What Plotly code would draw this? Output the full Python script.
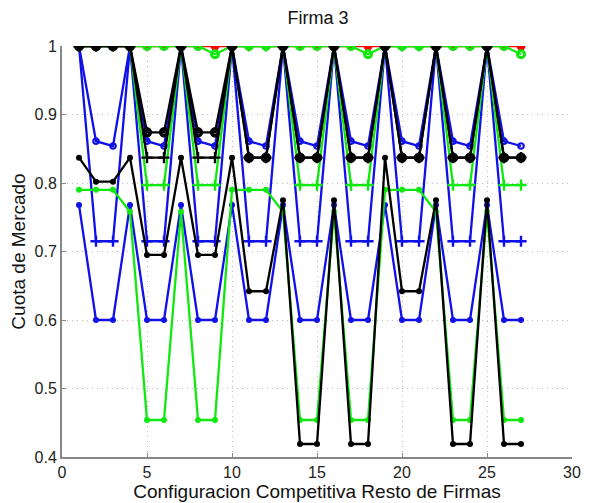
import plotly.graph_objects as go

x = [1, 2, 3, 4, 5, 6, 7, 8, 9, 10, 11, 12, 13, 14, 15, 16, 17, 18, 19, 20, 21, 22, 23, 24, 25, 26, 27]

red_dot = [1, 1, 1, 1, 1, 1, 1, 1, 1, 1, 1, 1, 1, 1, 1, 1, 1, 1, 1, 1, 1, 1, 1, 1, 1, 1, 1]

blue_dot = [0.768, 0.600, 0.600, 0.768, 0.600, 0.600, 0.768, 0.600, 0.600,
            0.768, 0.600, 0.600, 0.768, 0.600, 0.600, 0.768, 0.600, 0.600,
            0.768, 0.600, 0.600, 0.768, 0.600, 0.600, 0.768, 0.600, 0.600]
blue_plus = [1, 0.715, 0.715, 1, 0.715, 0.715, 1, 0.715, 0.715,
             1, 0.715, 0.715, 1, 0.715, 0.715, 1, 0.715, 0.715,
             1, 0.715, 0.715, 1, 0.715, 0.715, 1, 0.715, 0.715]
blue_o = [1, 0.861, 0.854, 1, 0.861, 0.854, 1, 0.861, 0.854,
          1, 0.861, 0.854, 1, 0.861, 0.854, 1, 0.861, 0.854,
          1, 0.861, 0.854, 1, 0.861, 0.854, 1, 0.861, 0.854]

green_dot = [0.790, 0.790, 0.790, 0.758, 0.454, 0.454, 0.758, 0.454, 0.454,
             0.790, 0.790, 0.790, 0.758, 0.454, 0.454, 0.758, 0.454, 0.454,
             0.790, 0.790, 0.790, 0.758, 0.454, 0.454, 0.758, 0.454, 0.454]
green_o = [1, 1, 1, 1, 1, 1, 1, 1, 0.988,
           1, 1, 1, 1, 1, 1, 1, 1, 0.988,
           1, 1, 1, 1, 1, 1, 1, 1, 0.988]
green_plus = [1, 1, 1, 1, 0.797, 0.797, 1, 0.797, 0.797,
              1, 1, 1, 1, 0.797, 0.797, 1, 0.797, 0.797,
              1, 1, 1, 1, 0.797, 0.797, 1, 0.797, 0.797]

black_dot = [0.837, 0.802, 0.802, 0.837, 0.695, 0.695, 0.837, 0.695, 0.695,
             0.837, 0.642, 0.642, 0.775, 0.419, 0.419, 0.775, 0.419, 0.419,
             0.837, 0.642, 0.642, 0.775, 0.419, 0.419, 0.775, 0.419, 0.419]
black_o = [1, 1, 1, 1, 0.874, 0.874, 1, 0.874, 0.874,
           1, 0.837, 0.837, 1, 0.837, 0.837, 1, 0.837, 0.837,
           1, 0.837, 0.837, 1, 0.837, 0.837, 1, 0.837, 0.837]
black_plus = [1, 1, 1, 1, 0.837, 0.837, 1, 0.837, 0.837,
              1, 0.837, 0.837, 1, 0.837, 0.837, 1, 0.837, 0.837,
              1, 0.837, 0.837, 1, 0.837, 0.837, 1, 0.837, 0.837]

x_ticks = [0, 5, 10, 15, 20, 25, 30]
y_ticks = [0.4, 0.5, 0.6, 0.7, 0.8, 0.9, 1.0]
y_tick_text = ["0.4", "0.5", "0.6", "0.7", "0.8", "0.9", "1"]

BLUE = "#1010e8"
GREEN = "#10e810"
BLACK = "#000000"
RED = "#ff0000"

fig = go.Figure()

STYLES = {
    "dot": lambda c: dict(symbol="circle", size=6, color=c),
    "big": lambda c: dict(symbol="circle", size=9, color=c),
    "o": lambda c: dict(symbol="circle-open", size=5.5, color=c, line=dict(width=2.2, color=c)),
    "ogreen": lambda c: dict(symbol="circle-open", size=7, color=c, line=dict(width=3, color=c)),
    "oblack": lambda c: dict(symbol="circle-open", size=7, color=c, line=dict(width=3.4, color=c)),
    "plus": lambda c: dict(symbol="cross-thin", size=8, color=c, line=dict(width=2.4, color=c)),
}


def add(y, color, kind):
    fig.add_trace(go.Scatter(x=x, y=y, mode="lines+markers",
                             line=dict(color=color, width=2.3),
                             marker=STYLES[kind](color), showlegend=False, hoverinfo="skip"))


add(red_dot, RED, "big")
add(blue_dot, BLUE, "dot")
add(blue_plus, BLUE, "plus")
add(blue_o, BLUE, "o")
add(green_dot, GREEN, "dot")
add(green_o, GREEN, "ogreen")
add(green_plus, GREEN, "plus")
add(black_dot, BLACK, "dot")
add(black_o, BLACK, "oblack")
add(black_plus, BLACK, "plus")

FONT = "Liberation Sans, Arial, sans-serif"

# The page places the figure 8 px from the top-left corner of the window.
W, H = 593, 495
fig.update_layout(
    width=W, height=H,
    margin=dict(l=54, r=29, t=38, b=46, autoexpand=False),
    paper_bgcolor="white", plot_bgcolor="white",
    font=dict(family=FONT, size=16, color="#222222"),
    title=dict(text="Firma 3", x=(318 - 8) / W, xanchor="center", xref="container",
               y=1 - 10 / H, yref="container", yanchor="middle",
               font=dict(size=18, color="#111111")),
)
AX = dict(
    ticks="inside", ticklen=4, tickcolor="#888888",
    showline=True, linecolor="#888888", linewidth=2, mirror=False,
    showgrid=True, gridcolor="#bdbdbd", griddash="1px,4px", gridwidth=1, zeroline=False,
    automargin=False, tickfont=dict(size=16, color="#222222"),
)
fig.update_xaxes(
    range=[0, 30], tickvals=x_ticks,
    title=dict(text="Configuracion Competitiva Resto de Firmas", font=dict(size=19, color="#111111"), standoff=0),
    **AX,
)
fig.update_yaxes(
    range=[0.4, 1.0], tickvals=y_ticks, ticktext=y_tick_text,
    title=dict(text="Cuota de Mercado", font=dict(size=19, color="#111111"), standoff=6),
    **AX,
)

fig.write_html("out.html")
